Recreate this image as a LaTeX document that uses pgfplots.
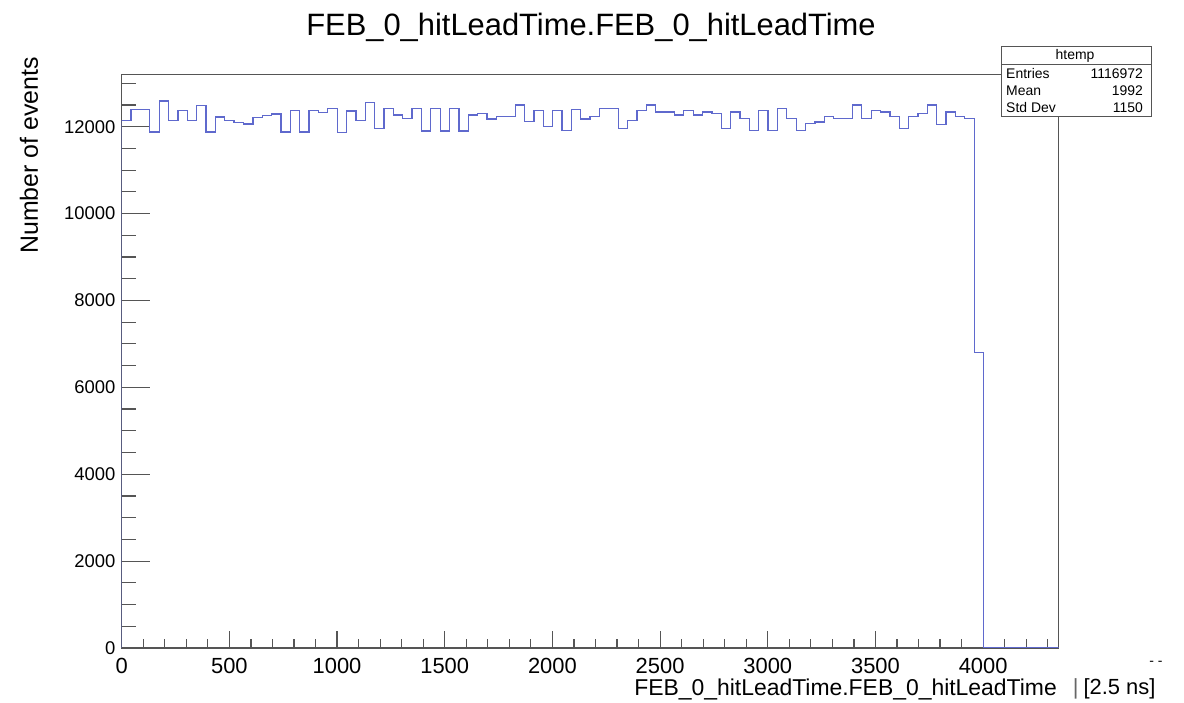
\documentclass[border=0pt]{standalone}
\usepackage{fontspec}
\setmainfont{Liberation Sans}
\usepackage{pgfplots}
\pgfplotsset{compat=1.18}
\definecolor{histblue}{RGB}{95,105,205}
\definecolor{framec}{RGB}{85,85,85}
\pgfplotstableread{
x y
0 0
0 12150
43.5 12400
87 12400
130.5 11880
174 12590
217.5 12140
261 12370
304.5 12140
348 12480
391.5 11880
435 12220
478.5 12140
522 12100
565.5 12060
609 12210
652.5 12250
696 12290
739.5 11880
783 12370
826.5 11880
870 12370
913.5 12330
957 12420
1000.5 11870
1044 12360
1087.5 12150
1131 12560
1174.5 11960
1218 12420
1261.5 12270
1305 12190
1348.5 12420
1392 11900
1435.5 12420
1479 11900
1522.5 12420
1566 11900
1609.5 12270
1653 12300
1696.5 12180
1740 12230
1783.5 12230
1827 12500
1870.5 12120
1914 12380
1957.5 12000
2001 12380
2044.5 11920
2088 12400
2131.5 12180
2175 12230
2218.5 12420
2262 12420
2305.5 11960
2349 12150
2392.5 12380
2436 12500
2479.5 12340
2523 12340
2566.5 12270
2610 12380
2653.5 12270
2697 12340
2740.5 12300
2784 11960
2827.5 12340
2871 12190
2914.5 11920
2958 12380
3001.5 11920
3045 12420
3088.5 12190
3132 11920
3175.5 12080
3219 12110
3262.5 12230
3306 12190
3349.5 12190
3393 12500
3436.5 12190
3480 12380
3523.5 12340
3567 12230
3610.5 11960
3654 12230
3697.5 12310
3741 12500
3784.5 12050
3828 12340
3871.5 12230
3915 12190
3958.5 6800
4002 0
4350 0
}\histdata
\begin{document}
\begin{tikzpicture}[x=1bp,y=1bp]
\path[use as bounding box] (-121.7,-55) rectangle (1062.3,648);
\begin{axis}[
  at={(0,0)}, anchor=south west,
  scale only axis, width=936.8bp, height=573.7bp,
  xmin=0, xmax=4350, ymin=0, ymax=13206,
  axis line style={framec, line width=1.5bp},
  tick align=inside,
  xtick pos=bottom, ytick pos=left,
  xtick={0,500,...,4000},
  minor xtick={100,200,...,4300},
  ytick={0,2000,...,12000},
  minor ytick={500,1000,...,13000},
  x tick style={framec, line width=1.2bp, /pgfplots/major tick length=17bp, /pgfplots/minor tick length=8.5bp},
  y tick style={framec, line width=1.2bp, /pgfplots/major tick length=28bp, /pgfplots/minor tick length=14bp},
  scaled ticks=false,
  /pgf/number format/1000 sep={},
  /pgf/number format/assume math mode=true,
  xticklabel style={font=\fontsize{22}{22}\selectfont, anchor=north, inner sep=0pt, yshift=-10bp},
  yticklabel style={font=\fontsize{18.5}{18.5}\selectfont, anchor=east, inner sep=0pt, xshift=-6bp},
]
\addplot[const plot, histblue, line width=1.3bp] table[x=x, y=y] {\histdata};
\end{axis}
% title
\node[anchor=base, font=\fontsize{31}{31}\selectfont] at (469.3,612) {FEB\_0\_hitLeadTime.FEB\_0\_hitLeadTime};
% x label
\node[anchor=base east, inner sep=0pt, font=\fontsize{23}{23}\selectfont] at (935.3,-48) {FEB\_0\_hitLeadTime.FEB\_0\_hitLeadTime};
\node[anchor=base west, inner sep=0pt, font=\fontsize{22}{22}\selectfont] at (951,-47) {\textcolor{black!60}{|}\hspace{5bp}[2.5 ns]};
\node[inner sep=0pt, font=\fontsize{14}{14}\selectfont] at (1034.3,-15) {- -};
% y label
\node[rotate=90, anchor=base east, inner sep=0pt, font=\fontsize{25}{25}\selectfont] at (-83.7,591) {Number of events};
% stats box
\draw[framec, line width=1.2bp, fill=white] (880,601.3) rectangle (1030,531.3);
\draw[framec, line width=1bp] (880,583) -- (1030,583);
\begin{scope}[font=\fontsize{14}{14}\selectfont]
\node at (953.3,592.5) {htemp};
\node[anchor=west, inner sep=0pt] at (884.3,574.5) {Entries};
\node[anchor=east, inner sep=0pt] at (1021.3,574.5) {1116972};
\node[anchor=west, inner sep=0pt] at (884.3,557.5) {Mean};
\node[anchor=east, inner sep=0pt] at (1021.3,557.5) {1992};
\node[anchor=west, inner sep=0pt] at (884.3,540.5) {Std Dev};
\node[anchor=east, inner sep=0pt] at (1021.3,540.5) {1150};
\end{scope}
\end{tikzpicture}
\end{document}
